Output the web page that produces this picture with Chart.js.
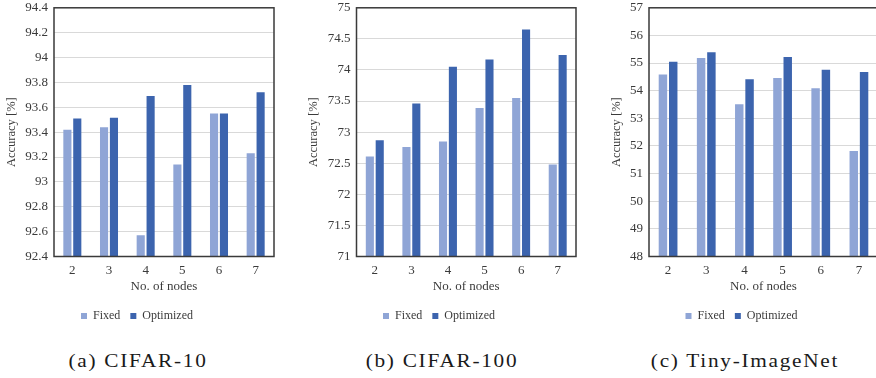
<!DOCTYPE html>
<html>
<head>
<meta charset="utf-8">
<script src="https://cdn.jsdelivr.net/npm/chart.js@4/dist/chart.umd.min.js"></script>
<style>
	html, body { margin: 0; padding: 0; background: #fff; width: 876px; height: 378px; overflow: hidden; }
	canvas { position: absolute; top: -6px; }
	.cap { position: absolute; top: 351px; font-family: "Liberation Serif", serif; font-size: 18.5px; color: #1a1a1a;
		letter-spacing: 1.5px; white-space: nowrap; transform: translateX(-50%) scaleX(1.15); }
</style>
</head>
<body>
<canvas id="c1" width="290" height="338" style="left:0px"></canvas>
<canvas id="c2" width="290" height="338" style="left:302px"></canvas>
<canvas id="c3" width="290" height="338" style="left:605px"></canvas>
<div class="cap" style="left:138px">(a) CIFAR-10</div>
<div class="cap" style="left:442px">(b) CIFAR-100</div>
<div class="cap" style="left:745px">(c) Tiny-ImageNet</div>
<script>
const nodes = ['2', '3', '4', '5', '6', '7'];
const seriesNames = ['Fixed', 'Optimized'];

const cifar10Fixed = [93.42, 93.44, 92.57, 93.14, 93.55, 93.23];
const cifar10Opt = [93.51, 93.515, 93.69, 93.78, 93.55, 93.72];
const cifar10Ticks = [92.4, 92.6, 92.8, 93, 93.2, 93.4, 93.6, 93.8, 94, 94.2, 94.4];

const cifar100Fixed = [72.61, 72.76, 72.85, 73.39, 73.55, 72.48];
const cifar100Opt = [72.87, 73.46, 74.05, 74.17, 74.65, 74.24];
const cifar100Ticks = [71, 71.5, 72, 72.5, 73, 73.5, 74, 74.5, 75];

const tinyFixed = [54.59, 55.18, 53.51, 54.46, 54.09, 51.82];
const tinyOpt = [55.05, 55.39, 54.41, 55.22, 54.76, 54.68];
const tinyTicks = [48, 49, 50, 51, 52, 53, 54, 55, 56, 57];

const lightBlue = '#8fa5d6';
const darkBlue = '#3c64ae';
const serif = '"Liberation Serif", "Times New Roman", serif';
const textColor = '#3a3a3a';

// box around the plot area
const frame = {
	id: 'frame',
	afterDatasetsDraw(chart) {
		const a = chart.chartArea;
		const ctx = chart.ctx;
		ctx.save();
		ctx.strokeStyle = '#3a3a3a';
		ctx.lineWidth = 1.5;
		ctx.strokeRect(a.left, a.top, a.right - a.left, a.bottom - a.top);
		ctx.restore();
	}
};

const makeChart = (id, fixed, opt, ticks, yWidth, padRight) => {
	const ctx = document.getElementById(id);
	return new Chart(ctx, {
		type: 'bar',
		data: {
			labels: nodes,
			datasets: [{
				label: seriesNames[0],
				data: fixed,
				backgroundColor: lightBlue,
				borderWidth: 0,
				categoryPercentage: 0.54,
				barPercentage: 0.82
			}, {
				label: seriesNames[1],
				data: opt,
				backgroundColor: darkBlue,
				borderWidth: 0,
				categoryPercentage: 0.54,
				barPercentage: 0.82
			}]
		},
		options: {
			responsive: false,
			animation: false,
			layout: { padding: { top: 0, right: padRight, left: 0, bottom: 0 } },
			plugins: {
				tooltip: { enabled: false },
				legend: {
					position: 'bottom',
					labels: {
						boxWidth: 6,
						boxHeight: 6,
						padding: 10,
						color: textColor,
						font: { family: serif, size: 12 }
					}
				}
			},
			scales: {
				x: {
					grid: { display: false, drawTicks: false },
					border: { display: false },
					ticks: { color: textColor, padding: 6, font: { family: serif, size: 13 } },
					title: { display: true, text: 'No. of nodes', color: textColor, padding: { top: 0, bottom: 6 }, font: { family: serif, size: 13 } },
					afterFit: s => { s.height = 43.5; }
				},
				y: {
					min: ticks[0],
					max: ticks[ticks.length - 1],
					afterBuildTicks: s => { s.ticks = ticks.map(v => ({ value: v })); },
					grid: { color: '#d9d9d9', lineWidth: 1, drawTicks: false },
					border: { display: false },
					ticks: {
						color: textColor,
						padding: 6,
						font: { family: serif, size: 13 },
						callback: v => String(+v.toFixed(1))
					},
					title: { display: true, text: 'Accuracy [%]', color: textColor, padding: { top: 4, bottom: 0 }, font: { family: serif, size: 12.5 } },
					afterFit: s => { s.width = yWidth; }
				}
			}
		},
		plugins: [frame]
	});
};

makeChart('c1', cifar10Fixed, cifar10Opt, cifar10Ticks, 54, 16);
makeChart('c2', cifar100Fixed, cifar100Opt, cifar100Ticks, 54.5, 16);
makeChart('c3', tinyFixed, tinyOpt, tinyTicks, 44, 17);
</script>
</body>
</html>
